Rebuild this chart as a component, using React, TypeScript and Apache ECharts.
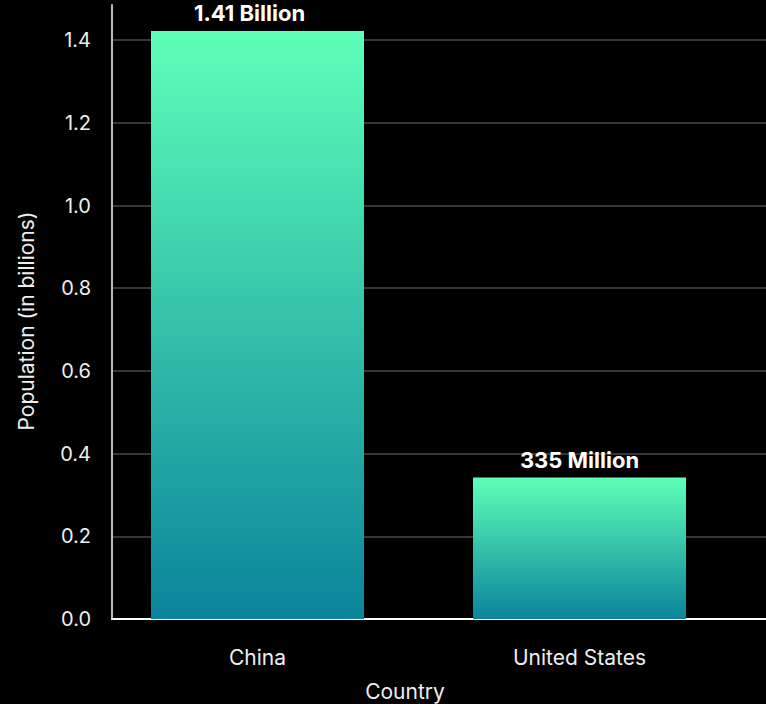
import React, { useEffect, useRef } from "react";
import * as echarts from "echarts";

const categories = ["China", "United States"];
const populations = [1.422, 0.342];
const barLabels = ["1.41 Billion", "335 Million"];
const yTicks = { min: 0, max: 1.485, interval: 0.2 };
const xTitle = "Country";
const yTitle = "Population (in billions)";

const FONT = "Inter, 'Noto Sans', sans-serif";

export default function App() {
  const ref = useRef<HTMLDivElement>(null);
  useEffect(() => {
    if (!ref.current) return;
    const chart = echarts.init(ref.current, undefined, { renderer: "svg" });
    const gradient = new echarts.graphic.LinearGradient(0, 0, 0, 1, [
      { offset: 0, color: "#5effb8" },
      { offset: 1, color: "#0a849b" },
    ]);
    chart.setOption({
      animation: false,
      backgroundColor: "#000000",
      textStyle: { fontFamily: FONT },
      grid: [
        { left: 112, right: 0, top: 5, bottom: 85 },
        { left: 96.5, width: 644, top: 5, bottom: 85 },
      ],
      xAxis: [
        {
          type: "category",
          gridIndex: 0,
          data: categories,
          axisLine: { show: true, lineStyle: { color: "#ffffff", width: 2 } },
          axisTick: { show: false },
          axisLabel: { show: false },
          splitLine: { show: false },
        },
        {
          type: "category",
          gridIndex: 1,
          data: categories,
          axisLine: { show: false },
          axisTick: { show: false },
          axisLabel: { color: "#eeeeee", fontSize: 21, margin: 28, fontFamily: FONT },
        },
      ],
      yAxis: [
        {
          type: "value",
          gridIndex: 0,
          min: yTicks.min,
          max: yTicks.max,
          interval: yTicks.interval,
          axisLine: { show: true, lineStyle: { color: "#bbbbbb", width: 2 } },
          axisTick: { show: false },
          axisLabel: {
            color: "#eeeeee",
            fontSize: 20,
            margin: 21,
            fontFamily: FONT,
            formatter: (v: number) => v.toFixed(1),
            showMaxLabel: false,
          },
          splitLine: {
            show: true,
            showMaxLine: false,
            lineStyle: { color: "#484848", width: 1.5 },
          },
        },
        {
          type: "value",
          gridIndex: 1,
          min: yTicks.min,
          max: yTicks.max,
          interval: yTicks.interval,
          show: false,
        },
      ],
      graphic: [
        {
          type: "text",
          x: 405,
          y: 691,
          style: {
            text: xTitle,
            fill: "#eeeeee",
            font: `21px ${FONT}`,
            align: "center",
            verticalAlign: "middle",
          },
        },
        {
          type: "text",
          x: 26,
          y: 321,
          rotation: Math.PI / 2,
          style: {
            text: yTitle,
            fill: "#eeeeee",
            font: `21px ${FONT}`,
            align: "center",
            verticalAlign: "middle",
          },
        },
      ],
      series: [
        {
          type: "bar",
          xAxisIndex: 1,
          yAxisIndex: 1,
          barWidth: 213,
          data: populations.map((v, i) => ({
            value: v,
            label: { formatter: barLabels[i], offset: i === 0 ? [-8, 0] : [0, 0] },
          })),
          itemStyle: { color: gradient },
          label: {
            show: true,
            position: "top",
            distance: 7,
            color: "#ffffff",
            fontSize: 22,
            fontWeight: "bold",
            fontFamily: FONT,
          },
        },
      ],
    });
    return () => chart.dispose();
  }, []);
  return (
    <div
      ref={ref}
      style={{ position: "fixed", left: 0, top: 0, width: 766, height: 704 }}
    />
  );
}
